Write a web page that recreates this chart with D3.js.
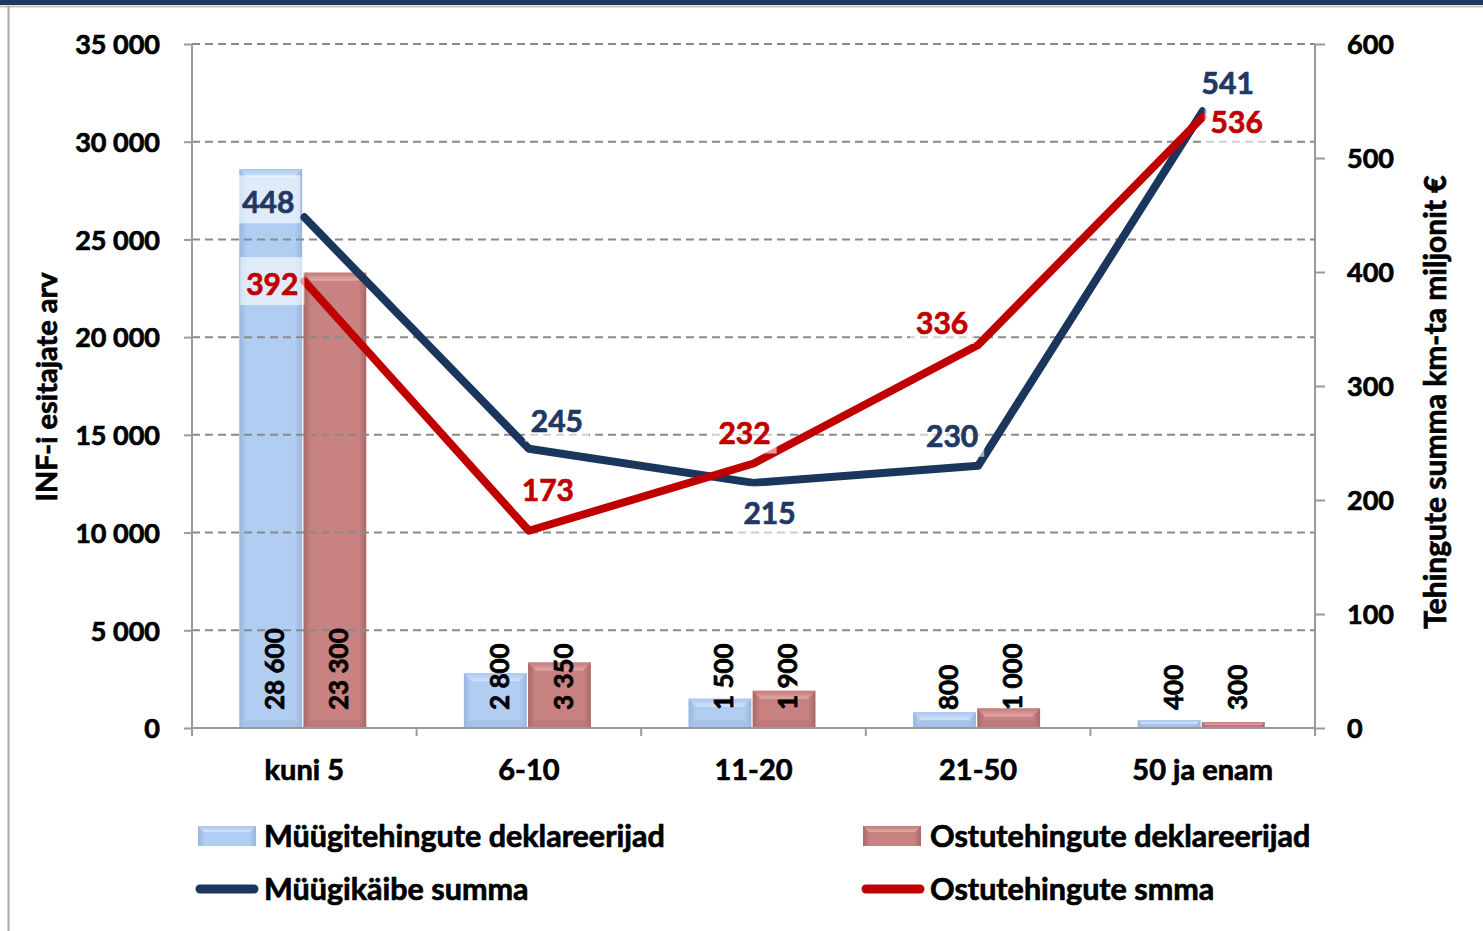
<!DOCTYPE html>
<html>
<head>
<meta charset="utf-8">
<script src="https://cdn.jsdelivr.net/npm/d3@7"></script>
<style>
  html, body { margin: 0; padding: 0; background: #fff; }
  svg { display: block; }
  text { font-family: Lato, "Open Sans", sans-serif; font-weight: bold; stroke-width: 0.7px; }
</style>
</head>
<body>
<svg id="chart" width="1483" height="931"></svg>
<script>
// ---- data ----
const categories = ["kuni 5", "6-10", "11-20", "21-50", "50 ja enam"];
const salesDeclarants = [28600, 2800, 1500, 800, 400];      // Müügitehingute deklareerijad
const purchaseDeclarants = [23300, 3350, 1900, 1000, 300];  // Ostutehingute deklareerijad
const salesSum = [448, 245, 215, 230, 541];                 // Müügikäibe summa
const purchaseSum = [392, 173, 232, 336, 536];              // Ostutehingute smma
const leftTicks = [0, 5000, 10000, 15000, 20000, 25000, 30000, 35000];
const rightTicks = [0, 100, 200, 300, 400, 500, 600];
const barLabels = {m: ["28 600", "2 800", "1 500", "800", "400"], o: ["23 300", "3 350", "1 900", "1 000", "300"]};
const legendNames = ["Müügitehingute deklareerijad", "Ostutehingute deklareerijad", "Müügikäibe summa", "Ostutehingute smma"];
const leftTitle = "INF-i esitajate arv";
const rightTitle = "Tehingute summa km-ta miljonit €";

// label placement offsets (relative to point), layout only
const salesLabelOffset = [[-36, -4], [28, -17], [16, 41], [-26, -19], [25, -17]];
const purchaseLabelOffset = [[-32, 14], [19, -30], [-9, -20], [-36, -11], [34, 16]];

const svg = d3.select("#chart");
const W = 1483, H = 931;
const plot = {left: 192, right: 1315, top: 44, bottom: 728};

// frame
svg.append("rect").attr("x", 0).attr("y", 0).attr("width", W).attr("height", 5).attr("fill", "#1f3a60");
svg.append("line").attr("x1", 0).attr("x2", W).attr("y1", 6.5).attr("y2", 6.5).attr("stroke", "#c4c4c4").attr("stroke-width", 2);
svg.append("line").attr("x1", 8.5).attr("x2", 8.5).attr("y1", 6).attr("y2", H).attr("stroke", "#a6a6a6").attr("stroke-width", 2);

// scales
const x = d3.scaleBand().domain(categories).range([plot.left, plot.right]).padding(0);
const x1 = d3.scaleBand().domain(["m", "o"]).range([-65, 62]).paddingInner(0.02);
const yL = d3.scaleLinear().domain([0, 35000]).range([plot.bottom, plot.top]);
const yR = d3.scaleLinear().domain([0, 600]).range([plot.bottom, plot.top]);

// gradients
const defs = svg.append("defs");
function hGrad(id, edge, mid) {
  const g = defs.append("linearGradient").attr("id", id).attr("x1", "0").attr("x2", "1").attr("y1", "0").attr("y2", "0");
  g.append("stop").attr("offset", "0").attr("stop-color", edge);
  g.append("stop").attr("offset", "0.12").attr("stop-color", mid);
  g.append("stop").attr("offset", "0.88").attr("stop-color", mid);
  g.append("stop").attr("offset", "1").attr("stop-color", edge);
}
hGrad("gBlue", "#97b5df", "#b1cdf1");
hGrad("gRed", "#a86868", "#c88282");
function vGrad(id, top, bottom) {
  const g = defs.append("linearGradient").attr("id", id).attr("x1", "0").attr("x2", "0").attr("y1", "0").attr("y2", "1");
  g.append("stop").attr("offset", "0").attr("stop-color", top);
  g.append("stop").attr("offset", "1").attr("stop-color", bottom);
}
vGrad("tBlue", "#a9c6ee", "#d2e3fa");
vGrad("tRed", "#c07a7a", "#e6a8a8");

// bars
const barData = [];
categories.forEach((c, i) => {
  barData.push({cat: c, key: "m", v: salesDeclarants[i], label: barLabels.m[i]});
  barData.push({cat: c, key: "o", v: purchaseDeclarants[i], label: barLabels.o[i]});
});
const bars = svg.append("g");
barData.forEach(d => {
  const bx = x(d.cat) + x.bandwidth() / 2 + x1(d.key);
  const bw = x1.bandwidth();
  const by = yL(d.v), bh = yL(0) - yL(d.v);
  bars.append("rect").attr("x", bx).attr("y", by).attr("width", bw).attr("height", bh)
    .attr("fill", d.key === "m" ? "url(#gBlue)" : "url(#gRed)");
  const bev = Math.min(8, bh / 2);
  bars.append("path")
    .attr("d", `M${bx},${by} L${bx + bw},${by} L${bx + bw - bev},${by + bev} L${bx + bev},${by + bev} Z`)
    .attr("fill", d.key === "m" ? "url(#tBlue)" : "url(#tRed)");
  bars.append("path")
    .attr("d", `M${bx},${by + bh} L${bx + bw},${by + bh} L${bx + bw - bev},${by + bh - bev} L${bx + bev},${by + bh - bev} Z`)
    .attr("fill", d.key === "m" ? "#9fbde6" : "#b77474").attr("opacity", 0.6);
});

// gridlines
svg.append("g").selectAll("line").data(leftTicks.filter(t => t > 0)).join("line")
  .attr("x1", plot.left).attr("x2", plot.right)
  .attr("y1", d => yL(d)).attr("y2", d => yL(d))
  .attr("stroke", "#8a8a8a").attr("stroke-width", 2).attr("stroke-dasharray", "8,5");

// axes
const axisColor = "#9a9a9a";
const gL = svg.append("g").attr("transform", `translate(${plot.left},0)`)
  .call(d3.axisLeft(yL).tickValues(leftTicks).tickSize(8).tickFormat(d => d3.format(",")(d).replace(/,/g, " ")));
gL.select(".domain").attr("stroke", axisColor).attr("stroke-width", 2).attr("d", `M0,${plot.top}V${plot.bottom + 8}`);
gL.selectAll(".tick line").attr("stroke", axisColor).attr("stroke-width", 2);
gL.selectAll(".tick text").attr("x", -32).attr("dy", "0.36em").attr("fill", "#000").attr("stroke", "#000")
  .style("font-size", "27px").style("font-family", "Lato").style("font-weight", "bold");

const gR = svg.append("g").attr("transform", `translate(${plot.right},0)`)
  .call(d3.axisRight(yR).tickValues(rightTicks).tickSize(10));
gR.select(".domain").attr("stroke", axisColor).attr("stroke-width", 2).attr("d", `M0,${plot.top}V${plot.bottom + 8}`);
gR.selectAll(".tick line").attr("stroke", axisColor).attr("stroke-width", 2);
gR.selectAll(".tick text").attr("x", 32).attr("dy", "0.36em").attr("fill", "#000").attr("stroke", "#000")
  .style("font-size", "27px").style("font-family", "Lato").style("font-weight", "bold");

// x axis
svg.append("line").attr("x1", plot.left).attr("x2", plot.right).attr("y1", plot.bottom).attr("y2", plot.bottom)
  .attr("stroke", axisColor).attr("stroke-width", 2);
const bounds = categories.map(c => x(c)).concat([x.range()[1]]);
svg.append("g").selectAll("line").data(bounds).join("line")
  .attr("x1", d => d).attr("x2", d => d).attr("y1", plot.bottom).attr("y2", plot.bottom + 8)
  .attr("stroke", axisColor).attr("stroke-width", 2);
svg.append("g").selectAll("text").data(categories).join("text")
  .attr("x", d => x(d) + x.bandwidth() / 2).attr("y", 780)
  .attr("text-anchor", "middle").attr("font-size", 29).attr("fill", "#000").attr("stroke", "#000").text(d => d);

// bar value labels (rotated)
svg.append("g").selectAll("text").data(barData).join("text")
  .attr("transform", d => `translate(${x(d.cat) + x.bandwidth() / 2 + x1(d.key) + x1.bandwidth() / 2 + 4},${plot.bottom - 18}) rotate(-90)`)
  .attr("dy", "0.36em").attr("font-size", 26).attr("fill", "#000").attr("stroke", "#000").text(d => d.label);

// lines
const line = d3.line().x((d, i) => x(categories[i]) + x.bandwidth() / 2).y(d => yR(d));
svg.append("path").datum(salesSum).attr("d", line).attr("fill", "none")
  .attr("stroke", "#1b365d").attr("stroke-width", 8).attr("stroke-linejoin", "round").attr("stroke-linecap", "round");
svg.append("path").datum(purchaseSum).attr("d", line).attr("fill", "none")
  .attr("stroke", "#c00000").attr("stroke-width", 8).attr("stroke-linejoin", "round").attr("stroke-linecap", "round");

// line value labels with translucent boxes
function lineLabels(values, offsets, color) {
  const g = svg.append("g");
  values.forEach((v, i) => {
    const px = x(categories[i]) + x.bandwidth() / 2 + offsets[i][0];
    const py = yR(v) + offsets[i][1];
    const box = g.append("rect");
    const t = g.append("text").attr("x", px).attr("y", py).attr("text-anchor", "middle")
      .attr("font-size", 30).attr("fill", color).attr("stroke", color).text(v);
    const bb = t.node().getBBox();
    box.attr("x", bb.x - 6).attr("y", bb.y - 8).attr("width", bb.width + 12).attr("height", bb.height + 12)
      .attr("fill", "#fff").attr("opacity", 0.6);
  });
}
lineLabels(salesSum, salesLabelOffset, "#1f3864");
lineLabels(purchaseSum, purchaseLabelOffset, "#c00000");

// axis titles
svg.append("text").attr("transform", `translate(57,387) rotate(-90)`).attr("text-anchor", "middle")
  .attr("font-size", 29).attr("fill", "#000").attr("stroke", "#000").text(leftTitle);
svg.append("text").attr("transform", `translate(1446,402) rotate(-90)`).attr("text-anchor", "middle")
  .attr("font-size", 30).attr("fill", "#000").attr("stroke", "#000").text(rightTitle);

// legend
const leg = svg.append("g");
const legItems = [
  {name: legendNames[0], type: "bar", fill: "url(#gBlue)", top: "url(#tBlue)", sx: 198, tx: 264, y: 836},
  {name: legendNames[1], type: "bar", fill: "url(#gRed)", top: "url(#tRed)", sx: 863, tx: 930, y: 836},
  {name: legendNames[2], type: "line", color: "#1b365d", sx: 200, tx: 264, y: 889},
  {name: legendNames[3], type: "line", color: "#c00000", sx: 866, tx: 930, y: 889}
];
legItems.forEach(it => {
  if (it.type === "bar") {
    leg.append("rect").attr("x", it.sx).attr("y", it.y - 10).attr("width", 58).attr("height", 20).attr("fill", it.fill);
    leg.append("path").attr("d", `M${it.sx},${it.y - 10} L${it.sx + 58},${it.y - 10} L${it.sx + 52},${it.y - 4} L${it.sx + 6},${it.y - 4} Z`).attr("fill", it.top);
  } else {
    leg.append("line").attr("x1", it.sx).attr("x2", it.sx + 54).attr("y1", it.y).attr("y2", it.y)
      .attr("stroke", it.color).attr("stroke-width", 9).attr("stroke-linecap", "round");
  }
  leg.append("text").attr("x", it.tx).attr("y", it.y + 11).attr("font-size", 30.5).attr("fill", "#000").attr("stroke", "#000").text(it.name);
});
</script>
</body>
</html>
